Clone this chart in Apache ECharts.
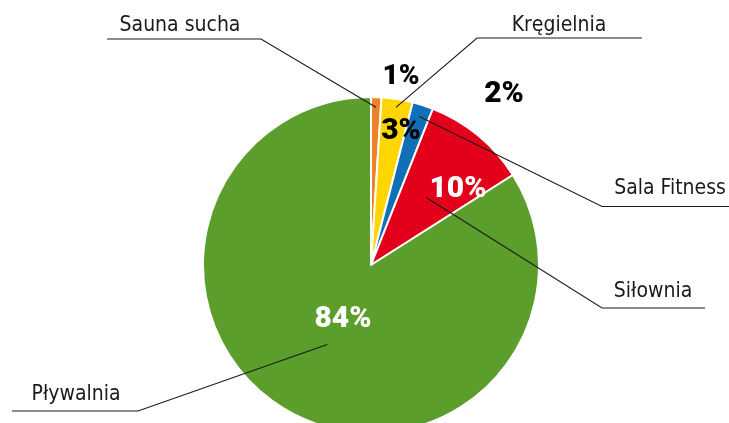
<!DOCTYPE html>
<html>
<head>
<meta charset="utf-8">
<script src="https://cdn.jsdelivr.net/npm/echarts@6/dist/echarts.min.js"></script>
<style>
  html, body { margin: 0; padding: 0; background: #ffffff; }
  #chart { width: 729px; height: 423px; }
</style>
</head>
<body>
<div id="chart"></div>
<script>
// Facilities and their share of visits (percent)
const categories = ['Sauna sucha', 'Kręgielnia', 'Sala Fitness', 'Siłownia', 'Pływalnia'];
const shares = [1, 3, 2, 10, 84];

// Styling
const sliceColors = ['#f0812a', '#ffd600', '#0f70b7', '#e2001a', '#5b9e2c'];
const pctColors = ['#000000', '#000000', '#000000', '#ffffff', '#ffffff'];
const pctSizes = [28, 30, 30, 30, 30];

// Layout: pie geometry, percent label centres, name label centres,
// leader-line elbows and underline ends, leader anchor depth (fraction of radius)
const CX = 371, CY = 265, R = 168;
const pctPos = [[401, 77], [401, 131], [504, 94], [458, 189], [343, 319]];
const namePos = [[180, 26], [559, 26], [670, 189], [653, 292], [76, 395]];
const elbows = [[261, 39], [477, 38], [602, 206.5], [602, 308], [138, 411]];
const lineEnds = [[107, 39], [642, 38], [729, 206.5], [705, 308], [12, 411]];
const anchorDepth = [0.94, 0.95, 0.93, 0.52, 0.54];

const NAME_FONT = "'DejaVu Sans Condensed', 'DejaVu Sans', sans-serif";
const PCT_FONT = "Roboto, 'Liberation Sans', sans-serif";

const total = shares.reduce((a, b) => a + b, 0);
function midAngle(i) {
  let before = 0;
  for (let k = 0; k < i; k++) before += shares[k];
  return (before + shares[i] / 2) / total * 2 * Math.PI;
}
function anchorPoint(i) {
  const a = midAngle(i);
  const r = R * anchorDepth[i];
  return [CX + r * Math.sin(a), CY - r * Math.cos(a)];
}

const chart = echarts.init(document.getElementById('chart'), null, { renderer: 'canvas' });

chart.setOption({
  animation: false,
  backgroundColor: '#ffffff',
  series: [
    {
      // slices with percentage labels
      type: 'pie',
      z: 2,
      center: [CX, CY],
      radius: R,
      startAngle: 90,
      clockwise: true,
      silent: true,
      avoidLabelOverlap: false,
      itemStyle: { borderColor: '#ffffff', borderWidth: 2 },
      data: categories.map((name, i) => ({
        name: name,
        value: shares[i],
        itemStyle: { color: sliceColors[i] },
        label: { color: pctColors[i], fontSize: pctSizes[i] }
      })),
      label: {
        show: true,
        position: 'inside',
        formatter: p => p.value + '%',
        fontFamily: PCT_FONT,
        fontWeight: 900,
        fontSize: 30
      },
      labelLine: { show: false },
      labelLayout: p => ({
        x: pctPos[p.dataIndex][0],
        y: pctPos[p.dataIndex][1],
        align: 'center',
        verticalAlign: 'middle',
        hideOverlap: false
      })
    },
    {
      // facility names with underlined leader lines
      type: 'pie',
      z: 3,
      center: [CX, CY],
      radius: R,
      startAngle: 90,
      clockwise: true,
      silent: true,
      avoidLabelOverlap: false,
      itemStyle: { color: 'rgba(0,0,0,0)', borderWidth: 0 },
      data: categories.map((name, i) => ({ name: name, value: shares[i] })),
      label: {
        show: true,
        position: 'outside',
        formatter: '{b}',
        fontFamily: NAME_FONT,
        fontSize: 21,
        color: '#1a1a1a'
      },
      labelLine: {
        show: true,
        length: 10,
        length2: 10,
        lineStyle: { color: '#1a1a1a', width: 1.1 }
      },
      labelLayout: p => {
        const i = p.dataIndex;
        return {
          x: namePos[i][0],
          y: namePos[i][1],
          align: 'center',
          verticalAlign: 'middle',
          hideOverlap: false,
          labelLinePoints: [anchorPoint(i), elbows[i], lineEnds[i]]
        };
      }
    }
  ]
});
</script>
</body>
</html>
